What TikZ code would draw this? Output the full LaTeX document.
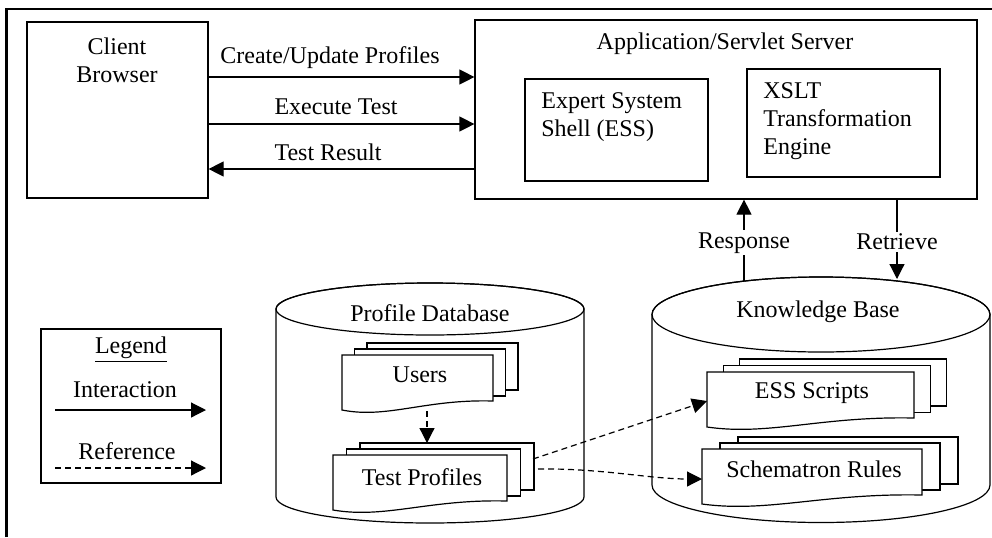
\documentclass[tikz,border=0pt]{standalone}
\usepackage{fontspec}
\setmainfont{Liberation Serif}
\usetikzlibrary{arrows.meta,fit}
\newcommand\mydocs[5]{% #1 x, #2 y, #3 w, #4 dx, #5 dy
  \filldraw[ln,fill=white] ({#1+2*#4},{#2-2*#5}) rectangle ++(#3,47);
  \filldraw[ln,fill=white] ({#1+#4},{#2-#5}) rectangle ++(#3,47);
  \filldraw[ln,fill=white] (#1,#2) -- ({#1+#3},#2) -- ({#1+#3},{#2+46})
     .. controls ({#1+0.55*#3},{#2+44}) and ({#1+0.3*#3},{#2+64}) .. (#1,{#2+55}) -- cycle;
}
\begin{document}
\begin{tikzpicture}[x=0.5pt,y=-0.5pt,
  font=\fontsize{12}{14}\selectfont,
  every node/.style={inner sep=0pt},
  ln/.style={line width=0.6pt},
  boxn/.style={draw, line width=0.6pt, inner sep=0pt},
  intarr/.style={ln, -{Triangle[length=7.5pt,width=7.5pt]}},
  refarr/.style={ln, dash pattern=on 3pt off 2pt, -{Triangle[length=7.5pt,width=7.5pt]}},
  lbl/.style={fill=white, inner sep=1pt}
]
\useasboundingbox (0,0) rectangle (992,537);
% outer frame (top and left edges)
\draw[line width=1.2pt] (6.5,537) -- (6.5,9) -- (992,9);

% client and server
\node[boxn, fit={(27,22) (208,198)}] (client) {};
\node[align=center] (clienttxt) at (117,60) {Client\\Browser};
\node[boxn, fit={(475,20) (977,199)}] (server) {};
\node (servertxt) at (725,44) {Application/Servlet Server};
\node[boxn, fit={(525,79) (708,181)}] (essbox) {};
\node[align=left, anchor=west] (esstxt) at (541,117) {Expert System\\Shell (ESS)};
\node[boxn, fit={(747,69) (940,177)}] (xslt) {};
\node[align=left, anchor=west] (xslttxt) at (763,121) {XSLT\\Transformation\\Engine};

% client-server arrows
\coordinate (y1) at (0,77);
\coordinate (y2) at (0,124);
\coordinate (y3) at (0,169);
\draw[intarr] (client.east |- y1) -- (server.west |- y1);
\draw[intarr] (client.east |- y2) -- (server.west |- y2);
\draw[intarr] (server.west |- y3) -- (client.east |- y3);
\node (l1) at (330,58) {Create/Update Profiles};
\node (l2) at (336,107) {Execute Test};
\node (l3) at (328,152) {Test Result};

% cylinders
\filldraw[ln,fill=white] (276,309) -- (276,497) arc[start angle=180,end angle=0,x radius=154,y radius=26]
   -- (584,309) arc[start angle=0,end angle=-180,x radius=154,y radius=26] -- cycle;
\draw[ln] (430,309) ellipse[x radius=154,y radius=26];
\node (pdb) at (430,313) {Profile Database};

\filldraw[ln,fill=white] (652,314.5) -- (652,485) arc[start angle=180,end angle=0,x radius=169,y radius=37.5]
   -- (990,314.5) arc[start angle=0,end angle=-180,x radius=169,y radius=37.5] -- cycle;
\draw[ln] (821,314.5) ellipse[x radius=169,y radius=37.5];
\node (kb) at (818,312) {Knowledge Base};

% document stacks
\mydocs{342}{355}{151}{12.5}{6}
\node (users) at (420,375) {Users};
\mydocs{333}{455}{174}{13.5}{6}
\node (tprof) at (422,477) {Test Profiles};
\mydocs{707}{372}{207}{16.3}{6.5}
\node (essscr) at (812,393) {ESS Scripts};
\mydocs{702}{449}{220}{18}{6}
\node (schem) at (814,469) {Schematron Rules};

% server - KB arrows
\coordinate (rb) at (744,281);
\coordinate (rt) at (897,279);
\draw[intarr] (rb) -- (rb |- server.south) node[lbl, pos=0.47] (resp) {Response};
\draw[intarr] (rt |- server.south) -- (rt) node[lbl, pos=0.53] (retr) {Retrieve};

% reference arrows
\coordinate (u1) at (427,411);
\coordinate (t1) at (427,443);
\draw[refarr] (u1) -- (t1);
\coordinate (t2) at (533,459);
\coordinate (e1) at (707,401);
\draw[refarr] (t2) -- (e1);
\coordinate (t3) at (538,469);
\coordinate (s1) at (702,479);
\draw[refarr] (t3) .. controls (600,468) and (650,479) .. (s1);

% legend
\node[boxn, fit={(41,329) (221,483)}] (legendbox) {};
\node (legend) at (131,350) {\underline{Legend}};
\node (inter) at (125,390) {Interaction};
\node (refer) at (127,451) {Reference};
\coordinate (la1) at (55,410);
\coordinate (la2) at (206,410);
\coordinate (lb1) at (55,468);
\coordinate (lb2) at (206,468);
\draw[intarr] (la1) -- (la2);
\draw[refarr] (lb1) -- (lb2);
\end{tikzpicture}
\end{document}
